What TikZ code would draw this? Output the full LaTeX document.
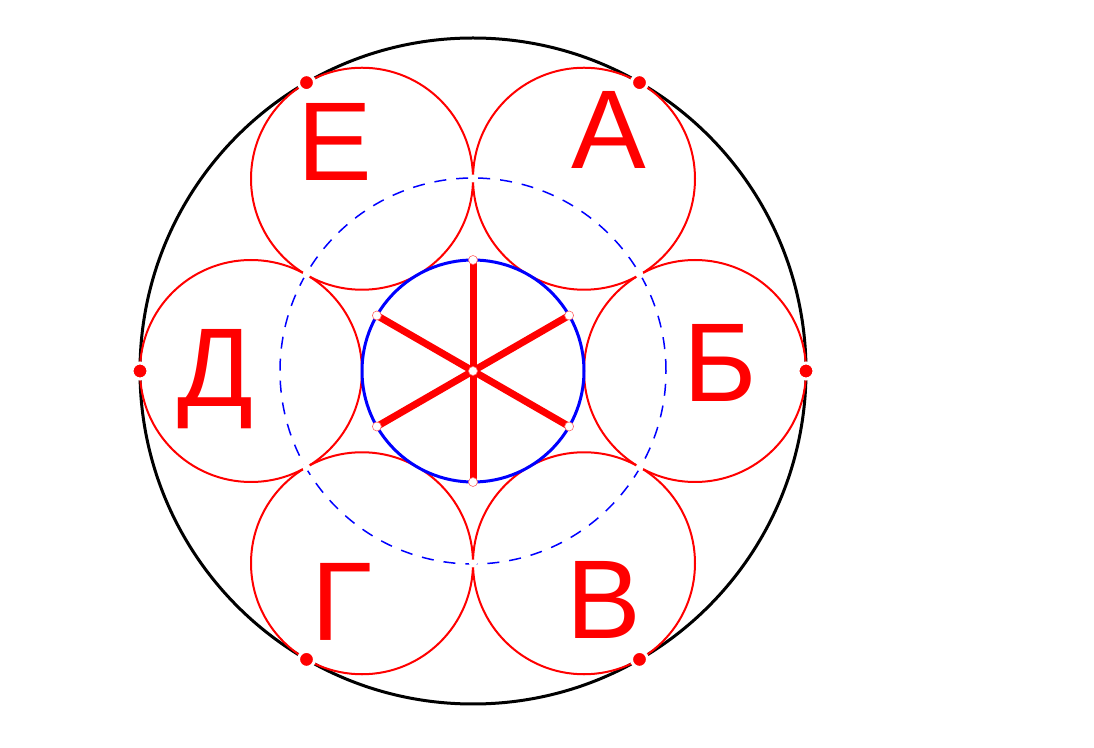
\documentclass[tikz,border=0pt]{standalone}
\usepackage{fontspec}
\setmainfont{Liberation Sans}
\usepackage{tikz}
\usetikzlibrary{calc}

\begin{document}
\begin{tikzpicture}[x=0.5pt,y=-0.5pt]
\tikzstyle{ring}=[draw=red,line width=1pt]
\tikzstyle{outer}=[draw=black,line width=1.5pt]
\tikzstyle{hub}=[draw=blue,line width=1.5pt]
\tikzstyle{orbit}=[draw=blue,line width=0.75pt,dash pattern=on 6pt off 5pt]
\tikzstyle{spoke}=[red,line width=3.5pt]
\tikzstyle{reddot}=[circle,fill=red,draw=white,line width=1.5pt,inner sep=0pt,minimum size=8pt]
\tikzstyle{gapdot}=[circle,fill=white,inner sep=0pt,minimum size=4pt]
\tikzstyle{hubdot}=[circle,fill=white,draw=red!60,line width=0.3pt,inner sep=0pt,minimum size=4.5pt]
\tikzstyle{letter}=[text=red,inner sep=0pt,anchor=base,font=\fontsize{56}{60}\selectfont]

\useasboundingbox (0,0) rectangle (1094,748);
\coordinate (O) at (473,371);

% outer ring and the six small rings
\draw[outer] (O) circle (166.5pt);
\foreach \a in {0,60,...,300}
  \draw[ring] ($(O)+(\a:222)$) circle (55.5pt);
\draw[orbit] (O) circle (96.5pt);
\draw[hub] (O) circle (55.5pt);

% points
\foreach \a in {30,90,...,330} {
  \coordinate (p\a) at ($(O)+(\a:111)$);
  \coordinate (t\a) at ($(O)+(\a:192.5)$);
}
\foreach \a in {0,60,...,300}
  \coordinate (r\a) at ($(O)+(\a:333)$);

\draw[spoke] (p30) -- (p210);
\draw[spoke] (p90) -- (p270);
\draw[spoke] (p150) -- (p330);

\foreach \a in {30,90,...,330} {
  \node[gapdot] at (t\a) {};
  \node[hubdot] at (p\a) {};
}
\node[hubdot] (c) at (O) {};
\foreach \a in {0,60,...,300}
  \node[reddot] at (r\a) {};

\node[letter] (lA) at (609,169) {А};
\node[letter] (lB) at (720,402) {Б};
\node[letter] (lV) at (604,639) {В};
\node[letter] (lG) at (342,641) {Г};
\node[letter] (lD) at (215,407) {Д};
\node[letter] (lE) at (335,181) {Е};
\end{tikzpicture}
\end{document}
